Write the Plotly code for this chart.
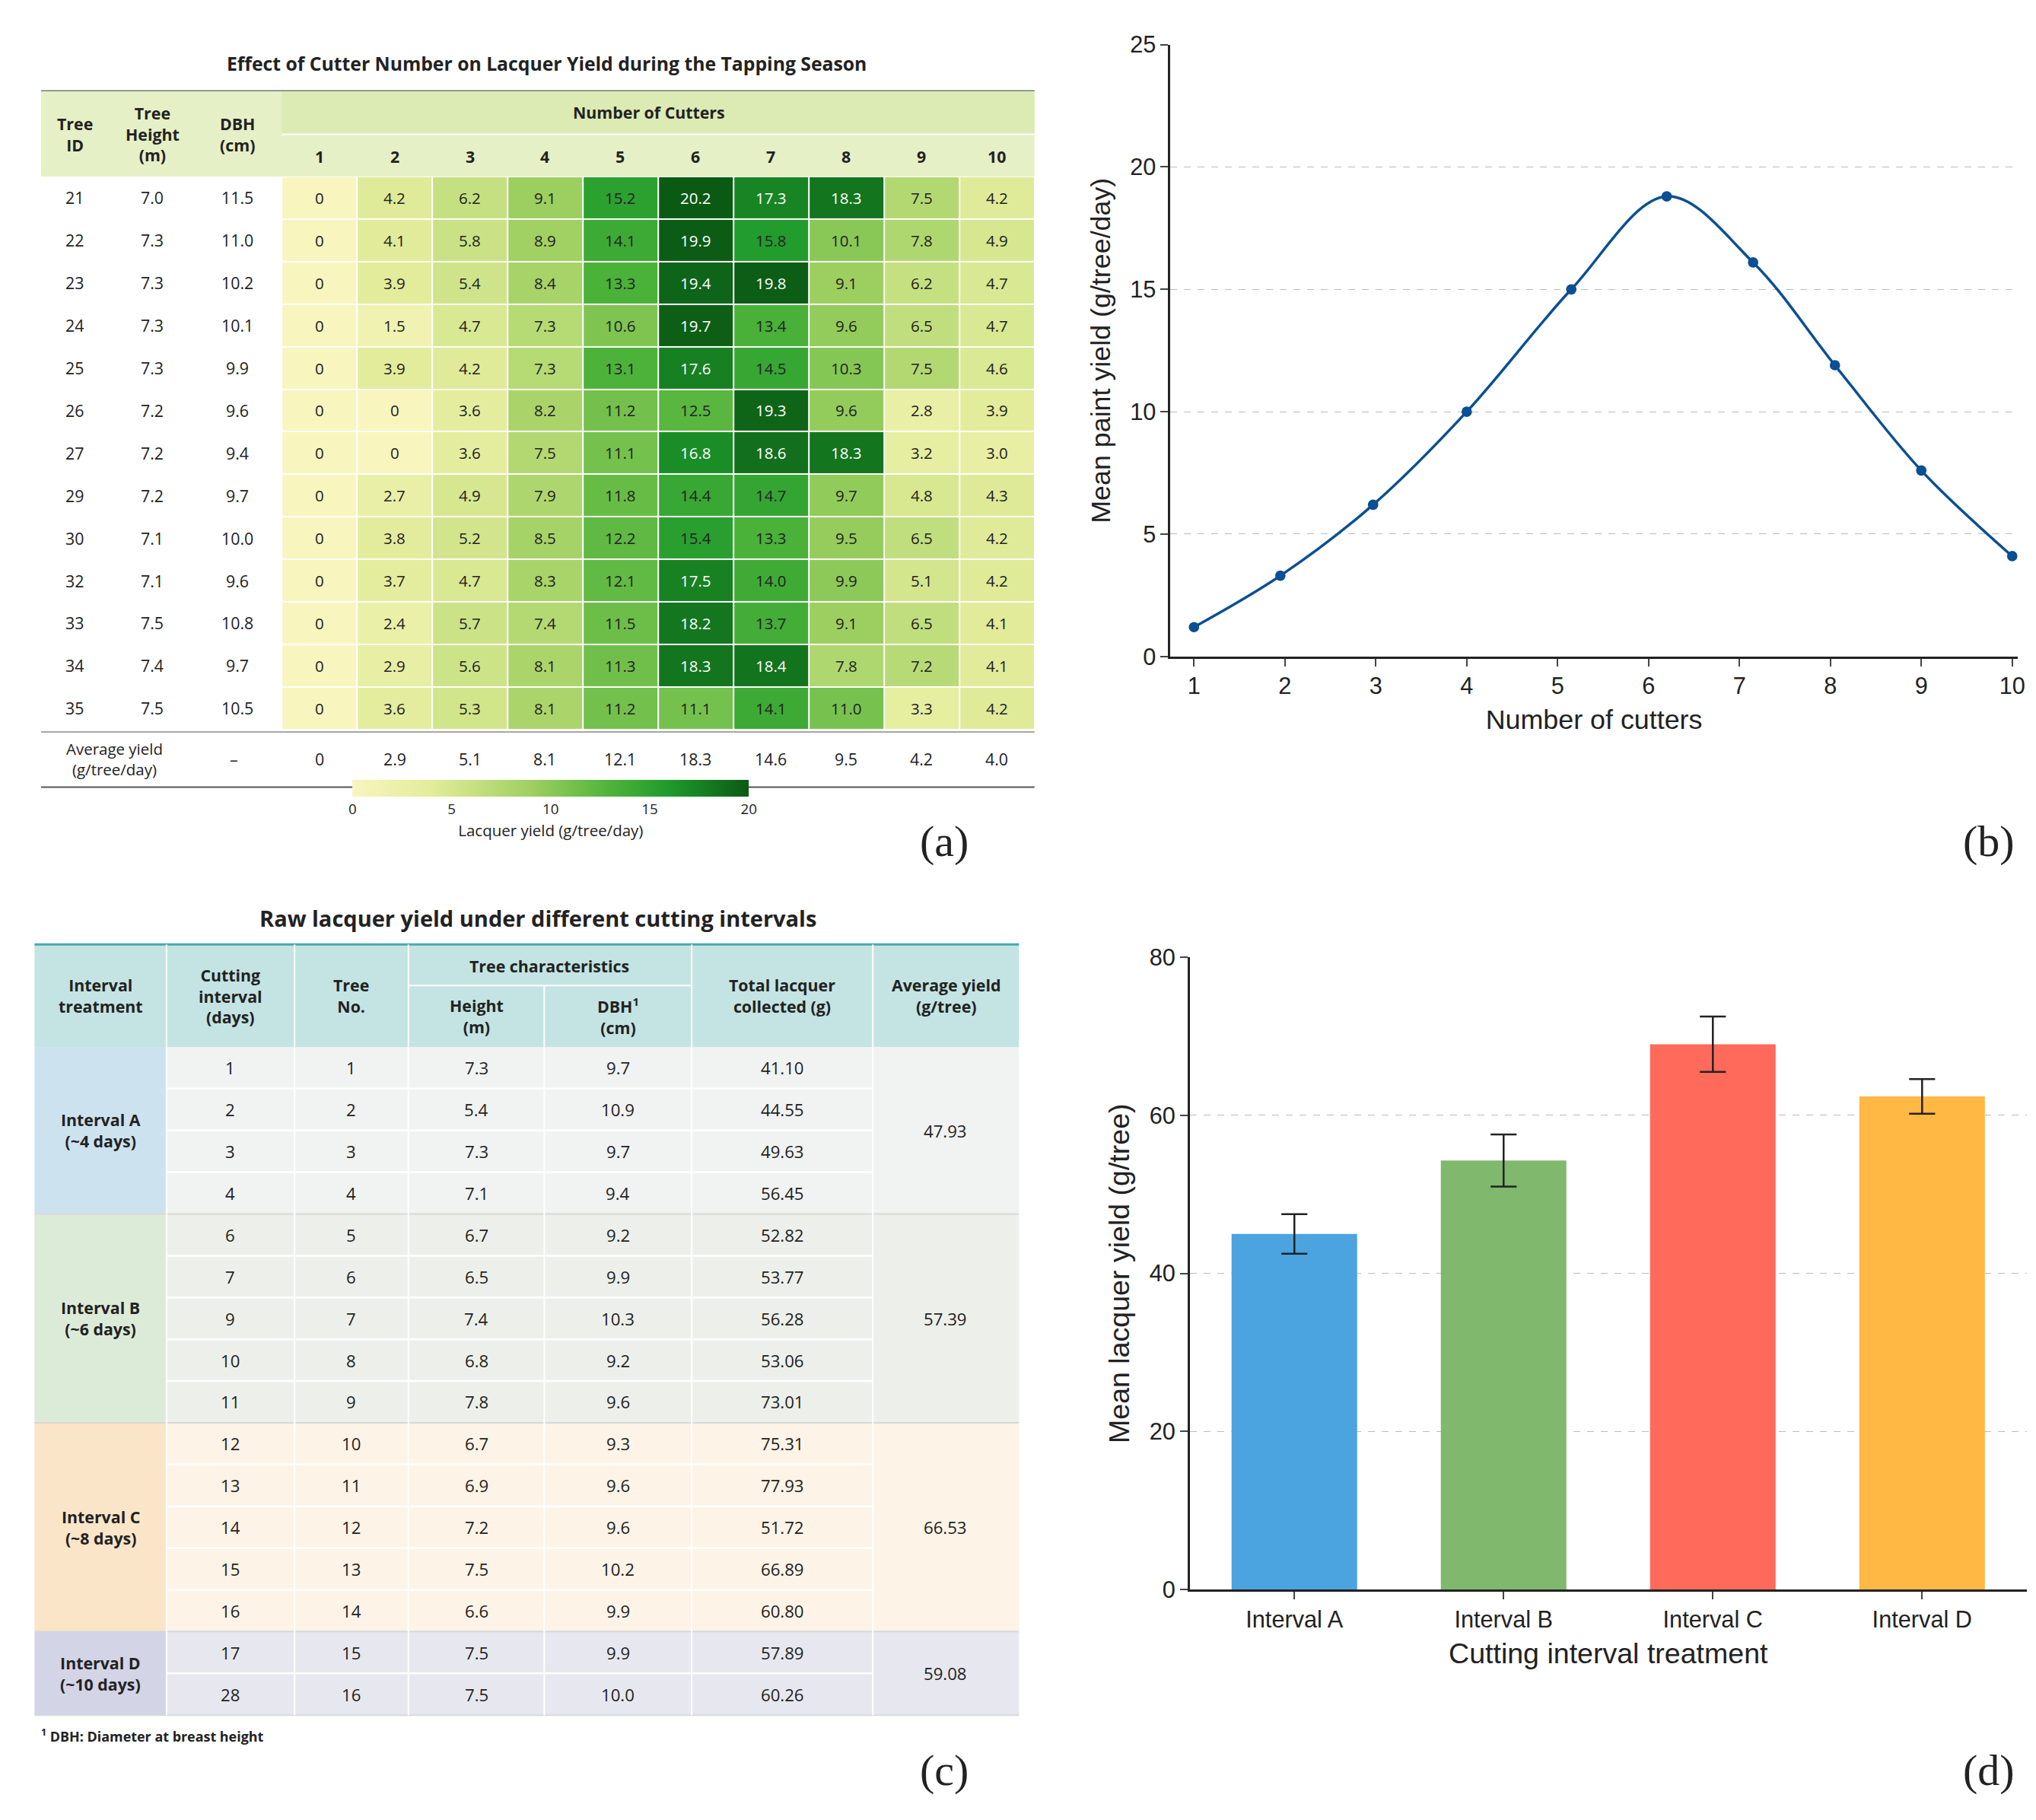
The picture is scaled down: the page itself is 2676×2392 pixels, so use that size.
import plotly.graph_objects as go

W, H = 2676, 2392
S = W / 1568  # reference drawn at 1568 px wide

def px(x):
    return x / 1568

def py(y):
    return 1 - y / 1401

def fs(v):
    return v * S

# ---------------- data (a)
trees = [21, 22, 23, 24, 25, 26, 27, 29, 30, 32, 33, 34, 35]
tree_height = [7.0, 7.3, 7.3, 7.3, 7.3, 7.2, 7.2, 7.2, 7.1, 7.1, 7.5, 7.4, 7.5]
tree_dbh = [11.5, 11.0, 10.2, 10.1, 9.9, 9.6, 9.4, 9.7, 10.0, 9.6, 10.8, 9.7, 10.5]
cutters = list(range(1, 11))
yields = [
    [0, 4.2, 6.2, 9.1, 15.2, 20.2, 17.3, 18.3, 7.5, 4.2],
    [0, 4.1, 5.8, 8.9, 14.1, 19.9, 15.8, 10.1, 7.8, 4.9],
    [0, 3.9, 5.4, 8.4, 13.3, 19.4, 19.8, 9.1, 6.2, 4.7],
    [0, 1.5, 4.7, 7.3, 10.6, 19.7, 13.4, 9.6, 6.5, 4.7],
    [0, 3.9, 4.2, 7.3, 13.1, 17.6, 14.5, 10.3, 7.5, 4.6],
    [0, 0, 3.6, 8.2, 11.2, 12.5, 19.3, 9.6, 2.8, 3.9],
    [0, 0, 3.6, 7.5, 11.1, 16.8, 18.6, 18.3, 3.2, 3.0],
    [0, 2.7, 4.9, 7.9, 11.8, 14.4, 14.7, 9.7, 4.8, 4.3],
    [0, 3.8, 5.2, 8.5, 12.2, 15.4, 13.3, 9.5, 6.5, 4.2],
    [0, 3.7, 4.7, 8.3, 12.1, 17.5, 14.0, 9.9, 5.1, 4.2],
    [0, 2.4, 5.7, 7.4, 11.5, 18.2, 13.7, 9.1, 6.5, 4.1],
    [0, 2.9, 5.6, 8.1, 11.3, 18.3, 18.4, 7.8, 7.2, 4.1],
    [0, 3.6, 5.3, 8.1, 11.2, 11.1, 14.1, 11.0, 3.3, 4.2],
]
avg_yield = [0, 2.9, 5.1, 8.1, 12.1, 18.3, 14.6, 9.5, 4.2, 4.0]

# ---------------- data (b)
b_x = [1, 1.95, 2.97, 4, 5.15, 6.2, 7.15, 8.05, 9, 10]
b_y = [1.2, 3.3, 6.2, 10.0, 15.0, 18.8, 16.1, 11.9, 7.6, 4.1]

# ---------------- data (c)
c_groups = ["Interval A<br>(~4 days)", "Interval B<br>(~6 days)",
            "Interval C<br>(~8 days)", "Interval D<br>(~10 days)"]
c_group_sizes = [4, 5, 5, 2]
c_group_avg = ["47.93", "57.39", "66.53", "59.08"]
c_days = [1, 2, 3, 4, 6, 7, 9, 10, 11, 12, 13, 14, 15, 16, 17, 28]
c_tree = list(range(1, 17))
c_height = [7.3, 5.4, 7.3, 7.1, 6.7, 6.5, 7.4, 6.8, 7.8, 6.7, 6.9, 7.2, 7.5, 6.6, 7.5, 7.5]
c_dbh = [9.7, 10.9, 9.7, 9.4, 9.2, 9.9, 10.3, 9.2, 9.6, 9.3, 9.6, 9.6, 10.2, 9.9, 9.9, 10.0]
c_total = ["41.10", "44.55", "49.63", "56.45", "52.82", "53.77", "56.28", "53.06", "73.01",
           "75.31", "77.93", "51.72", "66.89", "60.80", "57.89", "60.26"]

# ---------------- data (d)
d_cats = ["Interval A", "Interval B", "Interval C", "Interval D"]
d_vals = [45.0, 54.3, 69.0, 62.4]
d_err = [2.5, 3.3, 3.5, 2.2]

fig = go.Figure()
shapes, ann = [], []
TF = "Open Sans"

def text(x, y, t, size=13, color="#222", bold=False, font=TF, xanchor="center"):
    if bold:
        t = "<b>" + t + "</b>"
    ann.append(dict(x=px(x), y=py(y), xref="paper", yref="paper", text=t, showarrow=False,
                    font=dict(size=fs(size), color=color, family=font), xanchor=xanchor,
                    yanchor="middle"))

def rect(x0, y0, x1, y1, fill, line=None, lw=0):
    shapes.append(dict(type="rect", xref="paper", yref="paper", x0=px(x0), x1=px(x1),
                       y0=py(y1), y1=py(y0), fillcolor=fill, layer="below",
                       line=dict(width=lw, color=line or fill)))

def hline(x0, x1, y, color="#555", w=1.5):
    shapes.append(dict(type="line", xref="paper", yref="paper", x0=px(x0), x1=px(x1),
                       y0=py(y), y1=py(y), line=dict(color=color, width=w)))

# ================= panel (a)
row_idx = list(range(len(trees)))
green_scale = [[0, "#f8f5bf"], [0.2, "#e2ec9a"], [0.45, "#9fd061"], [0.65, "#4fb33a"],
               [0.8, "#1f9a2c"], [1, "#0b5a14"]]
fig.add_trace(go.Heatmap(
    z=yields, x=cutters, y=row_idx, zmin=0, zmax=20,
    colorscale=green_scale, xgap=2, ygap=2, xaxis="x3", yaxis="y3",
    hoverinfo="skip",
    colorbar=dict(orientation="h", x=px(421), xanchor="center", y=py(618), yanchor="middle",
                  len=px(318), lenmode="fraction", thickness=fs(13), outlinewidth=0,
                  tickvals=[0, 5, 10, 15, 20], ticks="",
                  tickfont=dict(size=fs(11), family=TF, color="#222"),
                  title=dict(text="Lacquer yield (g/tree/day)", side="bottom",
                             font=dict(size=fs(12), family=TF, color="#222")))))
for i, row in enumerate(yields):
    for j, v in enumerate(row):
        ann.append(dict(x=cutters[j], y=row_idx[i], xref="x3", yref="y3",
                        text=f"{v:g}" if v == 0 else f"{v:.1f}", showarrow=False,
                        font=dict(size=fs(12), family=TF,
                                  color="white" if v >= 16.5 else "#222")))

text(418, 35, "Effect of Cutter Number on Lacquer Yield during the Tapping Season", 14.5, bold=True)
rect(27, 56, 795, 123, "#e6f0c6")
rect(213, 56, 795, 90, "#dcebb4")
hline(27, 795, 56, "#777", 1.5)
hline(213, 795, 90, "#ffffff", 2)
text(53, 90, "Tree<br>ID", 12.5, bold=True)
text(113, 90, "Tree<br>Height<br>(m)", 12.5, bold=True)
text(179, 90, "DBH<br>(cm)", 12.5, bold=True)
text(497, 73, "Number of Cutters", 12.5, bold=True)
cw = (795 - 213) / 10
for j, c in enumerate(cutters):
    text(213 + cw * (j + 0.5), 107, str(c), 12.5, bold=True)
rh = (555 - 123) / 13
for i, t in enumerate(trees):
    yc = 123 + rh * (i + 0.5)
    text(53, yc, str(t), 12.5)
    text(113, yc, f"{tree_height[i]:.1f}", 12.5)
    text(179, yc, f"{tree_dbh[i]:.1f}", 12.5)
hline(27, 795, 557, "#888", 1.5)
hline(27, 795, 600, "#555", 2)
text(84, 578, "Average yield<br>(g/tree/day)", 12)
text(176, 578, "–", 12.5)
for j, v in enumerate(avg_yield):
    text(213 + cw * (j + 0.5), 578, f"{v:g}" if v == 0 else f"{v:.1f}", 12.5)

# ================= panel (b)
fig.add_trace(go.Scatter(x=b_x, y=b_y, mode="lines+markers", line=dict(color="#0b4f94", width=3.5,
                         shape="spline", smoothing=1.0), marker=dict(size=fs(8), color="#0b4f94"),
                         xaxis="x", yaxis="y", hoverinfo="skip"))

# ================= panel (c)
text(411, 702, "Raw lacquer yield under different cutting intervals", 17, bold=True)
cx = [22, 124, 223, 311, 416, 530, 670, 783]
rect(22, 723, 783, 803, "#c3e4e2")
hline(22, 783, 723, "#4aa9ab", 3)
hline(311, 530, 755, "#ffffff", 2)
for xx in cx[1:-1]:
    shapes.append(dict(type="line", xref="paper", yref="paper", x0=px(xx), x1=px(xx),
                       y0=py(803), y1=py(755 if 311 < xx < 530 else 723),
                       line=dict(color="white", width=2)))
hdr = ["Interval<br>treatment", "Cutting<br>interval<br>(days)", "Tree<br>No.",
       "Height<br>(m)", "DBH<sup>1</sup><br>(cm)", "Total lacquer<br>collected (g)",
       "Average yield<br>(g/tree)"]
for k, h in enumerate(hdr):
    yc = 779 if k in (3, 4) else 763
    text((cx[k] + cx[k + 1]) / 2, yc, h, 12.5, bold=True)
text(420, 740, "Tree characteristics", 12.5, bold=True)

grp_col = ["#cde2ef", "#dcebd8", "#fbe5c8", "#d3d4e6"]
grp_cell = ["#f1f2f2", "#edf0ea", "#fdf3e6", "#e7e8ef"]
crh = (1325 - 803) / 16
r0 = 0
for g, n in enumerate(c_group_sizes):
    y0, y1 = 803 + crh * r0, 803 + crh * (r0 + n)
    rect(22, y0, 124, y1, grp_col[g])
    rect(124, y0, 783, y1, grp_cell[g])
    text(73, (y0 + y1) / 2, c_groups[g], 12.5, bold=True)
    text(726, (y0 + y1) / 2, c_group_avg[g], 13)
    for r in range(r0, r0 + n):
        yc = 803 + crh * (r + 0.5)
        vals = [str(c_days[r]), str(c_tree[r]), f"{c_height[r]:.1f}", f"{c_dbh[r]:.1f}", c_total[r]]
        for k, v in enumerate(vals):
            text((cx[k + 1] + cx[k + 2]) / 2, yc, v, 13)
        if r > r0:
            hline(124, 670, 803 + crh * r, "#ffffff", 2.5)
    hline(22, 783, y1, "#d8d8d8", 2)
    r0 += n
for xx in cx[1:-1]:
    shapes.append(dict(type="line", xref="paper", yref="paper", x0=px(xx), x1=px(xx),
                       y0=py(1325), y1=py(803), line=dict(color="white", width=2)))
text(26, 1341, "<sup>1</sup> DBH: Diameter at breast height", 10.5, bold=True, xanchor="left")

# ================= panel (d)
d_colors = ["#4ba3e0", "#80b86e", "#ff6a5a", "#ffb843"]
fig.add_trace(go.Bar(x=d_cats, y=d_vals, marker=dict(color=d_colors, line=dict(width=0)),
                     width=0.6, error_y=dict(type="data", array=d_err, color="#222",
                                             thickness=2.5, width=fs(10)),
                     xaxis="x2", yaxis="y2", hoverinfo="skip"))

for lab, x, y in [("(a)", 725, 642), ("(b)", 1533, 642), ("(c)", 725, 1368), ("(d)", 1533, 1368)]:
    text(x, y, lab, 34, font="Liberation Serif")

ax_font = dict(family="Liberation Sans", color="#222")
fig.update_layout(
    width=W, height=H, margin=dict(l=0, r=0, t=0, b=0), showlegend=False,
    paper_bgcolor="white", plot_bgcolor="white", shapes=shapes, annotations=ann,
    xaxis=dict(domain=[px(900), px(1555)], range=[0.74, 10.06], tickvals=cutters,
               showline=True, linecolor="#222", linewidth=2.5, ticks="outside", ticklen=10,
               tickwidth=2, showgrid=False, zeroline=False,
               tickfont=dict(size=fs(18), **ax_font),
               title=dict(text="Number of cutters", font=dict(size=fs(21), **ax_font))),
    yaxis=dict(domain=[py(498), py(20)], range=[0, 25], tickvals=[0, 5, 10, 15, 20, 25],
               showline=True, linecolor="#222", linewidth=2.5, ticks="outside", ticklen=10,
               tickwidth=2, showgrid=True, gridcolor="#bbbbbb", griddash="dash", zeroline=False,
               tickfont=dict(size=fs(18), **ax_font),
               title=dict(text="Mean paint yield (g/tree/day)", font=dict(size=fs(21), **ax_font))),
    xaxis2=dict(domain=[px(915), px(1562)], anchor="y2", showline=True, linecolor="#222",
                linewidth=2.5, ticks="outside", ticklen=10, tickwidth=2,
                tickfont=dict(size=fs(18), **ax_font),
                title=dict(text="Cutting interval treatment", font=dict(size=fs(22), **ax_font))),
    yaxis2=dict(domain=[py(1227), py(733)], anchor="x2", range=[0, 80],
                tickvals=[0, 20, 40, 60, 80], showline=True, linecolor="#222", linewidth=2.5,
                ticks="outside", ticklen=10, tickwidth=2, showgrid=True, gridcolor="#bbbbbb",
                griddash="dash", zeroline=False, tickfont=dict(size=fs(18), **ax_font),
                title=dict(text="Mean lacquer yield (g/tree)", font=dict(size=fs(22), **ax_font))),
    xaxis3=dict(domain=[px(213), px(795)], anchor="y3", range=[0.5, 10.5], visible=False),
    yaxis3=dict(domain=[py(555), py(123)], anchor="x3", range=[12.5, -0.5], visible=False),
)

fig.write_html("out.html")
